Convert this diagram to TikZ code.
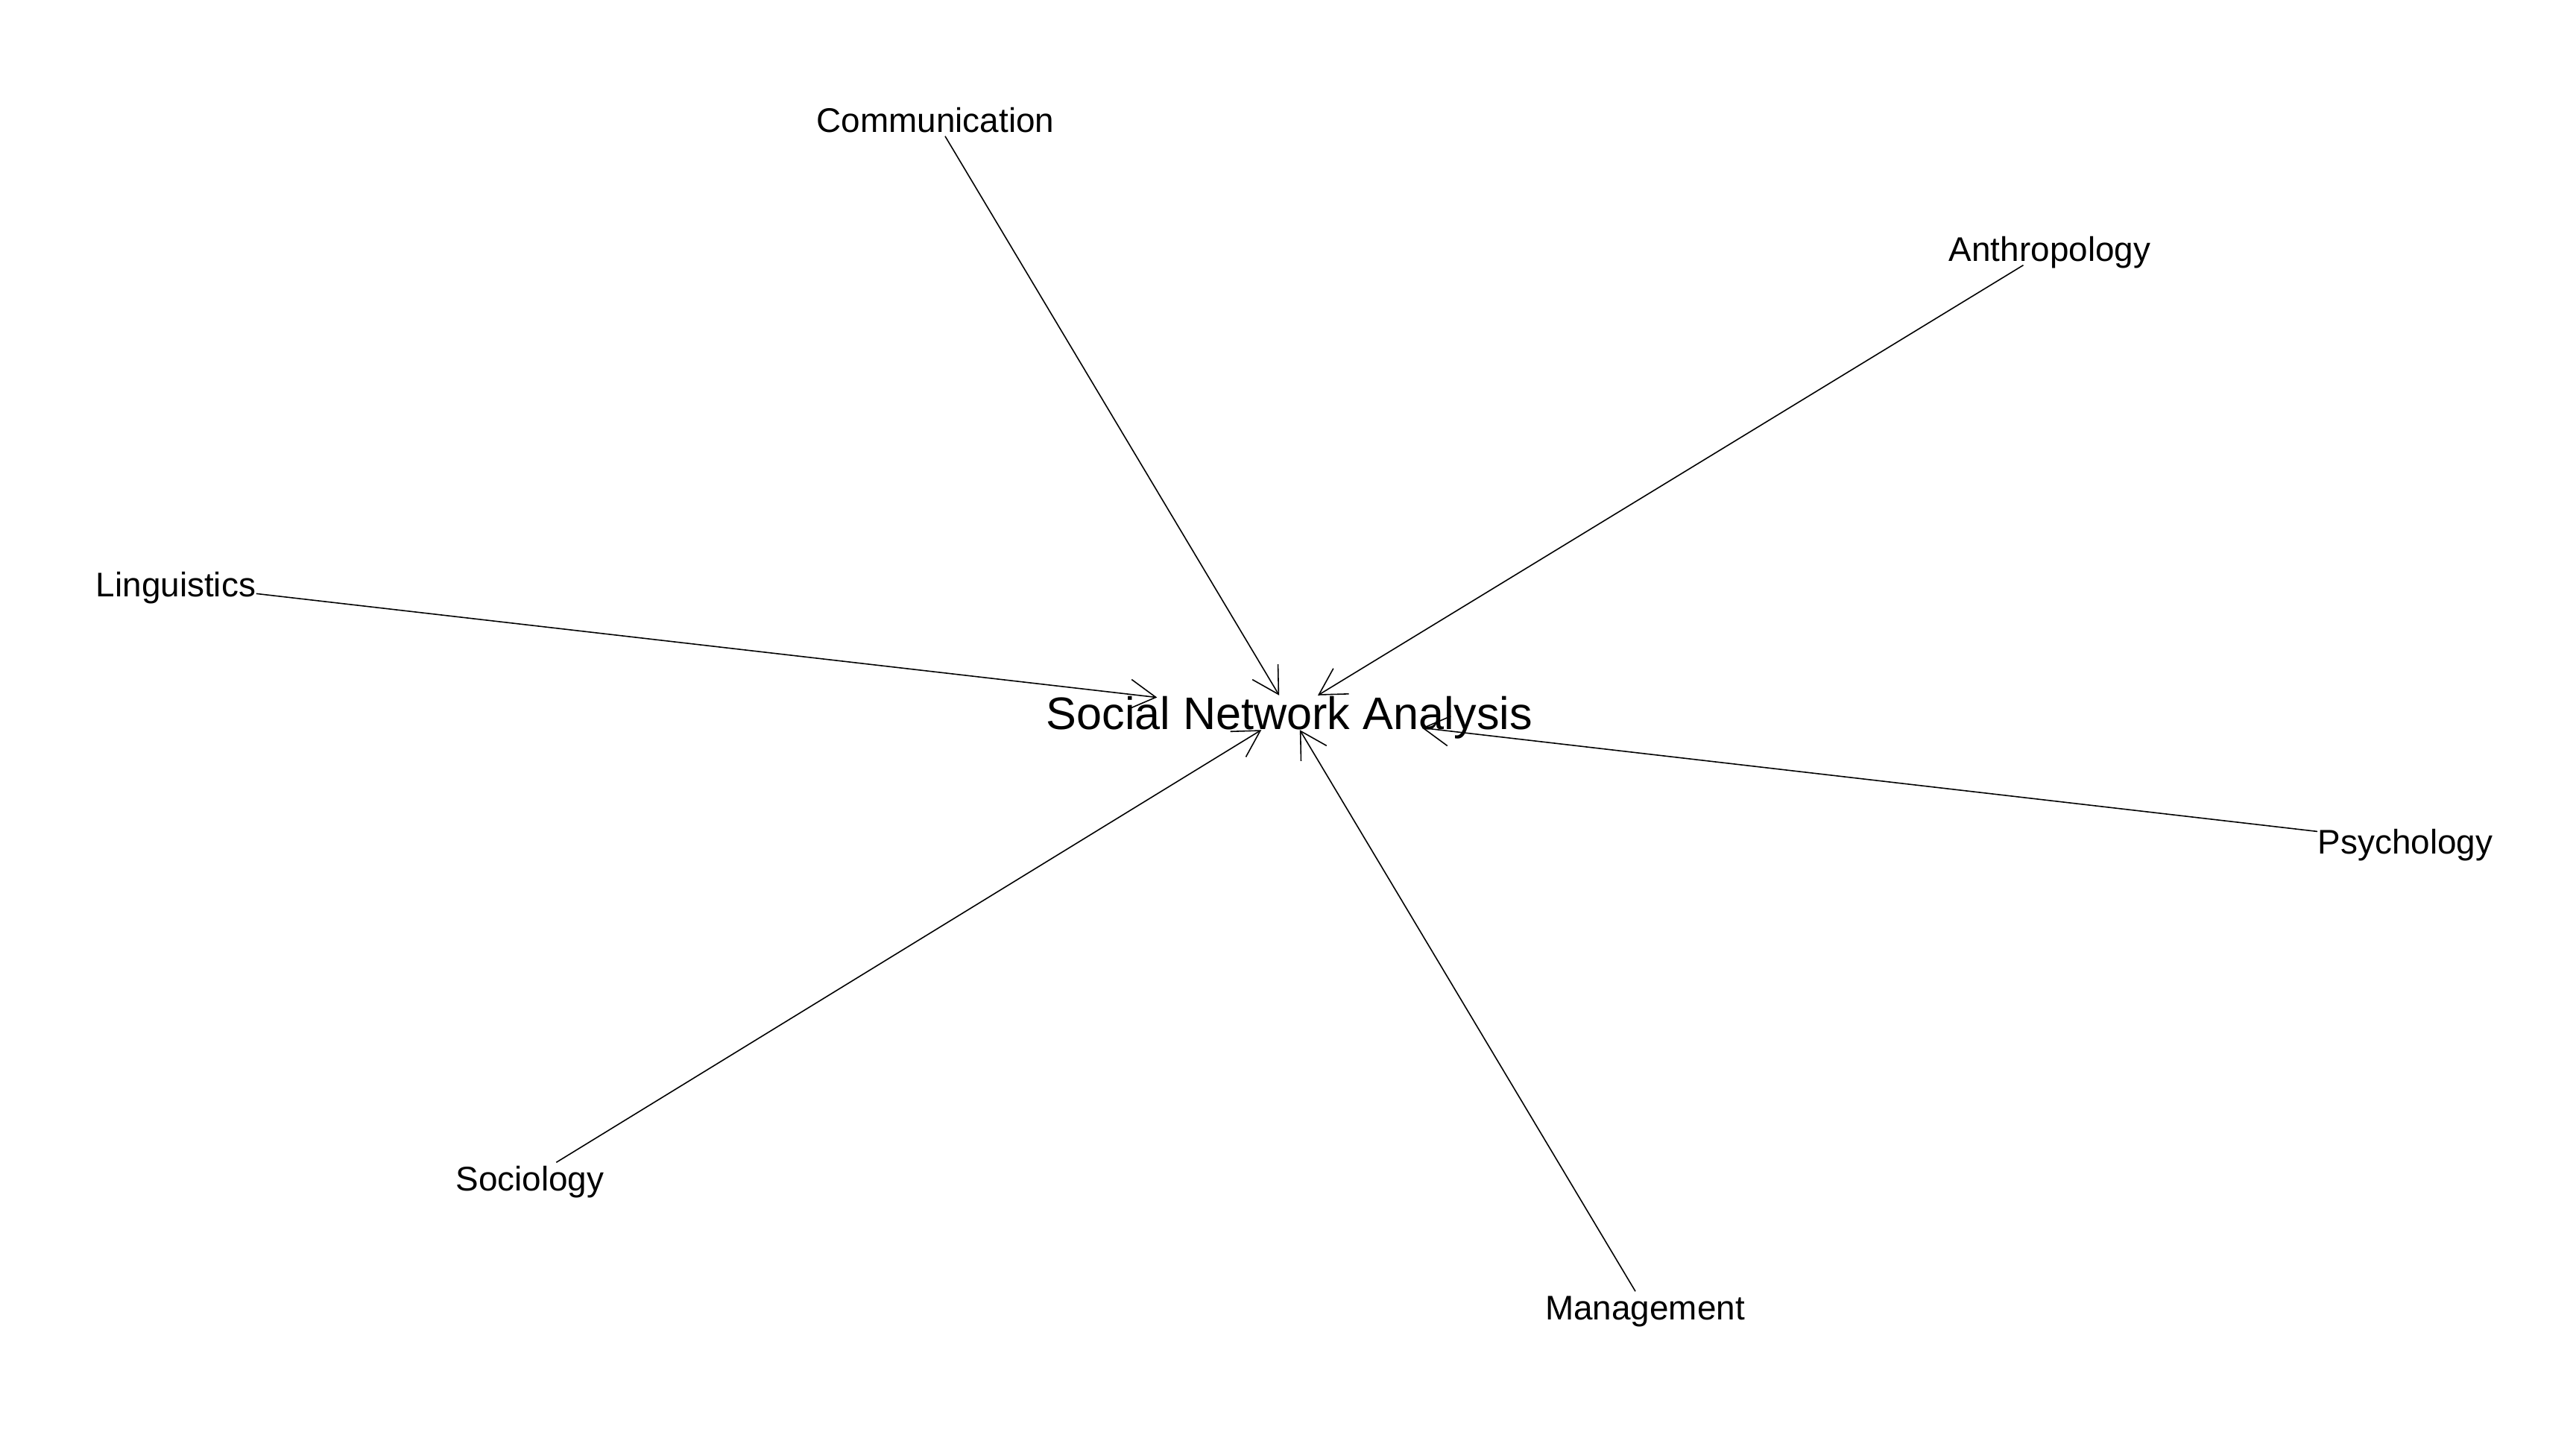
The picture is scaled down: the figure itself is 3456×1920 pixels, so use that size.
\documentclass[tikz,border=0pt]{standalone}
\usepackage{fontspec}
\setmainfont{Liberation Sans}
\usetikzlibrary{arrows.meta}
\tikzset{
  lbl/.style={inner xsep=0pt, inner ysep=0pt, text height=3.7mm, text depth=0.5mm,
    font=\fontsize{13.05}{15}\selectfont, anchor=center},
  bigl/.style={inner xsep=0pt, inner ysep=0pt, text height=4.4mm, text depth=0mm,
    font=\fontsize{17.4}{20}\selectfont, anchor=center},
  hubbox/.style={inner sep=0pt, minimum width=35.4mm, minimum height=4.5mm},
  link/.style={line width=0.45pt, -{Straight Barb[length=3.5mm,width=4mm,line width=0.45pt]}}
}
\begin{document}
\begin{tikzpicture}[x=0.1mm,y=-0.1mm]
\useasboundingbox (0,0) rectangle (3456,1920);
\node[bigl] (sna) at (1730,956) {Social Network Analysis};
\node[hubbox] (hub) at (1730,956) {};
\node[lbl] (com) at (1255,161) {Communication};
\node[lbl] (ant) at (2750,334) {Anthropology};
\node[lbl] (lin) at (236,784) {Linguistics};
\node[lbl] (psy) at (3227,1129) {Psychology};
\node[lbl] (soc) at (711,1581) {Sociology};
\node[lbl] (man) at (2207,1754) {Management};
\draw[link] (com) -- (hub);
\draw[link] (ant) -- (hub);
\draw[link] (lin) -- (hub);
\draw[link] (psy) -- (hub);
\draw[link] (soc) -- (hub);
\draw[link] (man) -- (hub);
\end{tikzpicture}
\end{document}
